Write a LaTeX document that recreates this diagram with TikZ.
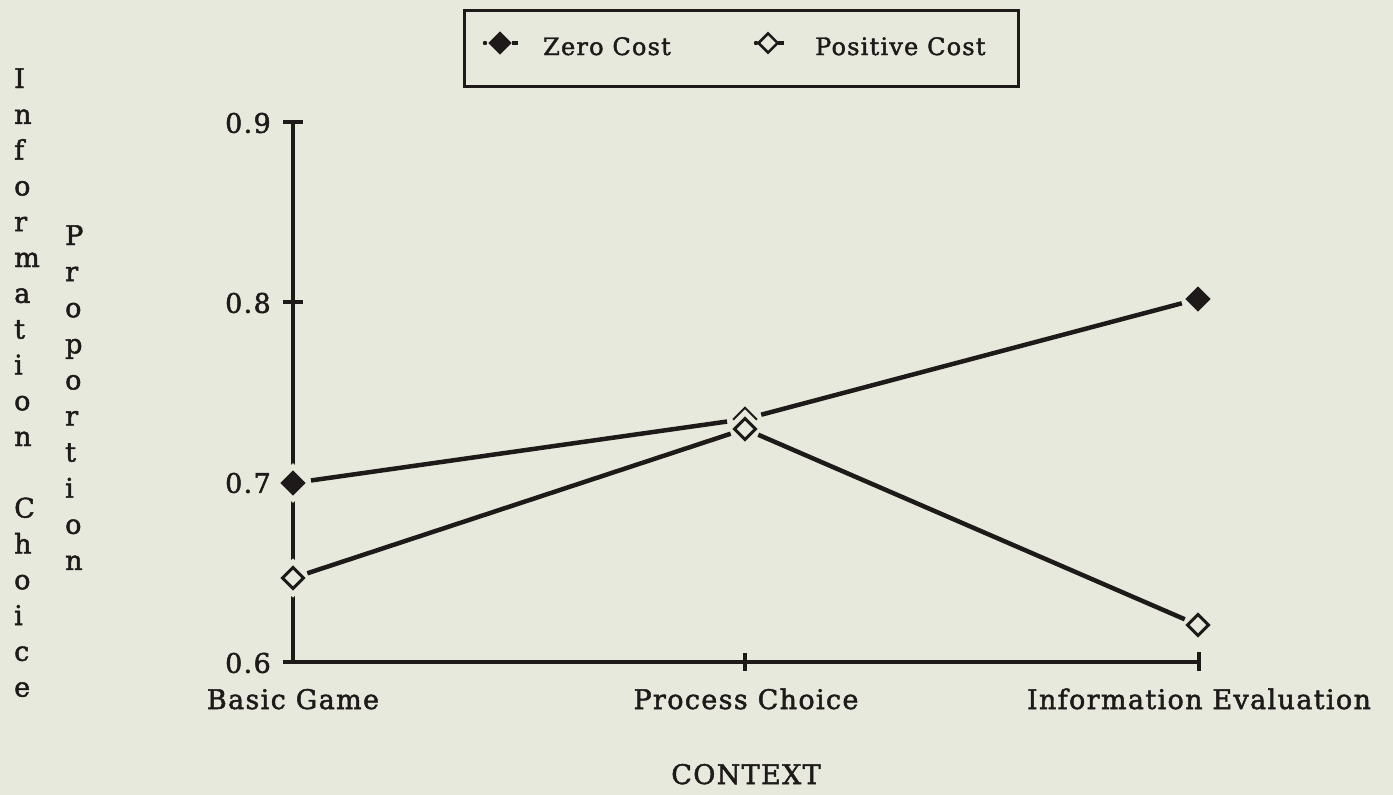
\documentclass[tikz,border=0pt]{standalone}
\usepackage{fontspec}
\setmainfont{DejaVu Serif}[LetterSpace=5, FakeBold=1.8]
\usetikzlibrary{shapes.geometric}
\definecolor{bg}{RGB}{231,233,221}
\definecolor{ink}{RGB}{30,26,26}
\begin{document}
\begin{tikzpicture}[x=1pt,y=-1pt,
  every node/.style={text=ink, inner sep=0pt},
  lbl/.style={font=\fontsize{27}{30}\selectfont},
  leg/.style={font=\fontsize{24}{28}\selectfont},
  axisline/.style={draw=ink, line width=3.5pt},
  dataline/.style={draw=ink, line width=4.5pt},
  zmark/.style={diamond, aspect=1, minimum size=29pt, fill=ink, draw=ink, line width=1pt, outer sep=6pt, preaction={draw=bg, line width=11pt}},
  pmark/.style={diamond, aspect=1, minimum size=26pt, fill=bg, draw=ink, line width=3pt, outer sep=6pt, preaction={draw=bg, line width=13pt}},
]
\fill[bg] (0,0) rectangle (1393,795);
\useasboundingbox (0,0) rectangle (1393,795);

% axes
\coordinate (ytop) at (293,122);
\coordinate (orig) at (293,662);
\coordinate (xend) at (1199,662);
\draw[axisline] (ytop) -- (orig) -- (xend);
\coordinate (t9a) at (283,122); \coordinate (t9b) at (303,122);
\coordinate (t8a) at (283,302); \coordinate (t8b) at (303,302);
\coordinate (t7a) at (283,482); \coordinate (t7b) at (303,482);
\coordinate (t6a) at (283,662);
\coordinate (tma) at (745,653); \coordinate (tmb) at (745,671);
\coordinate (tra) at (1199,652); \coordinate (trb) at (1199,671);
\draw[axisline] (t9a) -- (t9b);
\draw[axisline] (t8a) -- (t8b);
\draw[axisline] (t7a) -- (t7b);
\draw[axisline] (t6a) -- (orig);
\draw[axisline] (tma) -- (tmb);
\draw[axisline] (tra) -- (trb);

% tick labels
\node[lbl, anchor=east] (l9) at (271,123) {0.9};
\node[lbl, anchor=east] (l8) at (271,303) {0.8};
\node[lbl, anchor=east] (l7) at (271,483) {0.7};
\node[lbl, anchor=east] (l6) at (271,663) {0.6};

% category labels
\node[lbl, anchor=base] (cBasic) at (293,709) {Basic Game};
\node[lbl, anchor=base] (cProc) at (746,709) {Process Choice};
\node[lbl, anchor=base] (cInfo) at (1199,709) {Information Evaluation};
\node[lbl, anchor=base] (ctx) at (746,784) {CONTEXT};

% vertical axis titles
\foreach \ch [count=\i] in {I,n,f,o,r,m,a,t,i,o,n,{},C,h,o,i,c,e}
  \node[lbl, anchor=base west] (ic\i) at (14,{88+35.8*(\i-1)}) {\ch};
\foreach \ch [count=\i] in {P,r,o,p,o,r,t,i,o,n}
  \node[lbl, anchor=base west] (pr\i) at (65,{245+36.1*(\i-1)}) {\ch};

% markers
\node[zmark] (z1) at (293,483) {};
\node[zmark] (z2) at (745,419) {};
\node[zmark] (z3) at (1198,299) {};
\node[pmark] (p1) at (293,578) {};
\node[pmark] (p2) at (745,429) {};
\node[pmark] (p3) at (1198,625) {};

% connectors
\draw[dataline] (z1) -- (z2);
\draw[dataline] (z2) -- (z3);
\draw[dataline] (p1) -- (p2);
\draw[dataline] (p2) -- (p3);

% legend
\node[draw=ink, line width=3pt, minimum width=554pt, minimum height=76pt] (legend) at (741,48) {};
\node[zmark, minimum size=27pt] (lz) at (500,43) {};
\node[pmark, minimum size=24pt, line width=2.5pt] (lp) at (768,43) {};
\coordinate (lzd) at (485,43);
\coordinate (lza) at (512,43); \coordinate (lzb) at (518,43);
\coordinate (lpd) at (756,43);
\coordinate (lpa) at (778,43); \coordinate (lpb) at (784,43);
\fill[ink] (lzd) circle (2.2pt);
\fill[ink] (lpd) circle (2.2pt);
\draw[ink, line width=3.5pt] (lza) -- (lzb);
\draw[ink, line width=3.5pt] (lpa) -- (lpb);
\node[leg, anchor=base west] (lzt) at (543,55) {Zero Cost};
\node[leg, anchor=base west] (lpt) at (815,55) {Positive Cost};
\end{tikzpicture}
\end{document}
